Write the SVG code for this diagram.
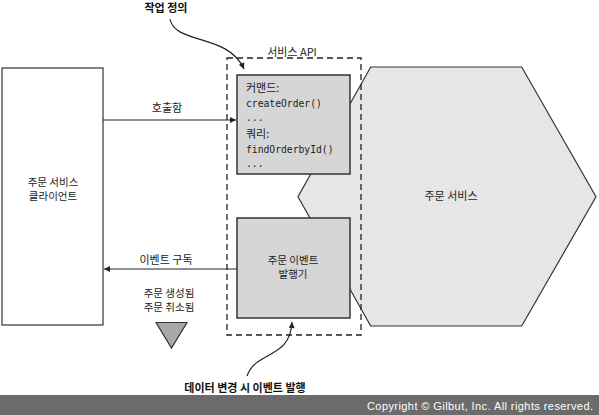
<svg xmlns="http://www.w3.org/2000/svg" width="599" height="415" viewBox="0 0 599 415">
<defs>
<style>
.k{font-family:"Noto Sans CJK KR","Noto Sans",sans-serif;font-size:11px;fill:#222}
.k2{font-family:"Noto Sans CJK KR","Noto Sans",sans-serif;font-size:10.5px;fill:#222}
.kb{font-family:"Noto Sans CJK KR","Noto Sans",sans-serif;font-size:11px;font-weight:bold;fill:#111}
.m{font-family:"DejaVu Sans Mono","Liberation Mono",monospace;font-size:9.7px;fill:#222}
.box{fill:#d6d6d6;stroke:#333;stroke-width:1.5}
.line{stroke:#222;stroke-width:1.2;fill:none}
</style>
<marker id="ah" viewBox="0 0 10 10" refX="10" refY="5" markerWidth="8" markerHeight="6" markerUnits="userSpaceOnUse" orient="auto">
<path d="M0,0 L10,5 L0,10 Z" fill="#222"/>
</marker>
</defs>
<rect width="599" height="415" fill="#fff"/>
<g id="client">
<rect x="2" y="68" width="101" height="257" fill="#fff" stroke="#333" stroke-width="1.2"/>
<text class="k2" x="53" y="185.5" text-anchor="middle">주문 서비스</text>
<text class="k2" x="53" y="200" text-anchor="middle">클라이언트</text>
</g>
<g id="order-service">
<polygon points="370.7,67 521.7,67 596,196.7 521.7,326 370.7,326 298,196.7" fill="#e6e6e6" stroke="#333" stroke-width="1.2"/>
<text class="k" x="451" y="200" text-anchor="middle">주문 서비스</text>
</g>
<g id="service-api">
<rect x="227" y="58" width="134" height="277" fill="none" stroke="#222" stroke-width="1.3" stroke-dasharray="6,4"/>
<text class="k" x="292" y="56" text-anchor="middle" font-size="11.5">서비스 API</text>
</g>
<g id="api-box">
<rect class="box" x="237" y="75" width="113" height="99"/>
<text class="k" x="246" y="92">커맨드:</text>
<text class="m" x="246" y="107">createOrder()</text>
<text class="m" x="246" y="121">...</text>
<text class="k" x="246" y="138">쿼리:</text>
<text class="m" x="246" y="153">findOrderbyId()</text>
<text class="m" x="246" y="167">...</text>
</g>
<g id="publisher">
<rect class="box" x="237" y="218" width="113" height="100"/>
<text class="k2" x="293" y="263.5" text-anchor="middle">주문 이벤트</text>
<text class="k2" x="293" y="278" text-anchor="middle">발행기</text>
</g>
<g id="events">
<text class="k2" x="169" y="296.5" text-anchor="middle">주문 생성됨</text>
<text class="k2" x="169" y="311" text-anchor="middle">주문 취소됨</text>
<polygon points="156,322.5 187,322.5 171.5,348" fill="#a8a8a8" stroke="#333" stroke-width="1.2"/>
</g>
<g id="connectors">
<line class="line" x1="103" y1="120" x2="236" y2="120" marker-end="url(#ah)"/>
<text class="k" x="167" y="112" text-anchor="middle">호출함</text>
<line class="line" x1="237" y1="269" x2="104" y2="269" marker-end="url(#ah)"/>
<text class="k" x="166" y="264" text-anchor="middle">이벤트 구독</text>
<path class="line" d="M170,19 C175,45 228,33 244,69" marker-end="url(#ah)"/>
<path class="line" d="M247,376 C256,350 290,360 292,322" marker-end="url(#ah)"/>
</g>
<text class="kb" x="166" y="12" text-anchor="middle">작업 정의</text>
<text class="kb" x="245" y="392" text-anchor="middle" font-size="10.5">데이터 변경 시 이벤트 발행</text>
<rect x="0" y="395" width="599" height="20" fill="#6b6b6b"/>
<text x="593" y="410" text-anchor="end" font-family="Liberation Sans, Arial, sans-serif" font-size="11" fill="#fff" textLength="226">Copyright © Gilbut, Inc. All rights reserved.</text>
</svg>
